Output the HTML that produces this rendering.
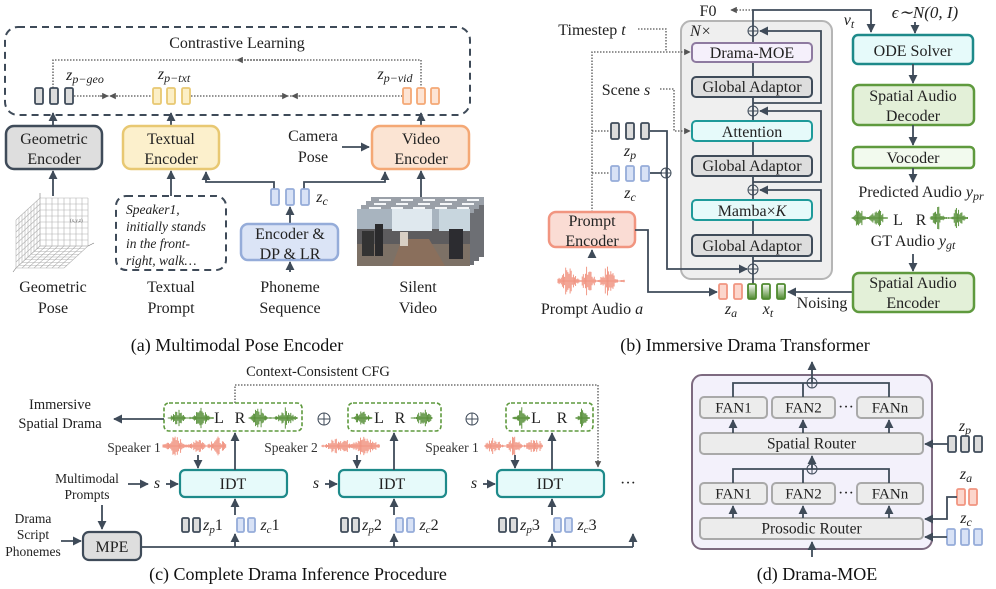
<!DOCTYPE html>
<html><head><meta charset="utf-8"><style>
html,body{margin:0;padding:0;background:#fff;}
svg{display:block;font-family:"Liberation Serif",serif;}
.t{font-size:16px;fill:#222;text-anchor:middle;}
.s{font-size:13.5px;fill:#222;text-anchor:middle;}
.cap{font-size:18px;fill:#111;text-anchor:middle;}
.i{font-style:italic;}
.ln{stroke:#3f4b59;stroke-width:1.8;fill:none;}
.dt{stroke:#555;stroke-width:1.3;fill:none;stroke-dasharray:1.5 1.5;}
</style></head><body>
<svg id="sv" width="996" height="589" viewBox="0 0 996 589" xmlns="http://www.w3.org/2000/svg">
<defs>
<marker id="a" viewBox="0 0 10 10" refX="9" refY="5" markerWidth="5" markerHeight="5" orient="auto"><path d="M0,0L10,5L0,10z" fill="#3f4b59"/></marker>
<marker id="ad" viewBox="0 0 10 10" refX="9" refY="5" markerWidth="5" markerHeight="5" orient="auto"><path d="M0,0L10,5L0,10z" fill="#555"/></marker>
<linearGradient id="gt" x1="0" y1="0" x2="0" y2="1"><stop offset="0" stop-color="#fff"/><stop offset="1" stop-color="#4f8a2f"/></linearGradient>
</defs>

<!-- ===== Panel (a) ===== -->
<rect x="5" y="27" width="465" height="88" rx="13" fill="none" stroke="#3f4b59" stroke-width="2" stroke-dasharray="7 5"/>
<text x="237" y="48" class="t">Contrastive Learning</text>
<path d="M53,88V60H421V88" class="dt"/>
<path d="M300,60L237,60" class="dt" marker-end="url(#ad)"/>
<path d="M74,96H152" class="dt"/><path d="M100,96h8" class="dt" marker-end="url(#ad)"/><path d="M118,96h-8" class="dt" marker-end="url(#ad)"/>
<path d="M191,96H402" class="dt"/><path d="M280,96h8" class="dt" marker-end="url(#ad)"/><path d="M300,96h-8" class="dt" marker-end="url(#ad)"/>
<text x="85" y="80" class="t i">z<tspan font-size="12" dy="3">p−geo</tspan></text>
<text x="174" y="79" class="t i">z<tspan font-size="12" dy="3">p−txt</tspan></text>
<text x="395" y="79" class="t i">z<tspan font-size="12" dy="3">p−vid</tspan></text>
<path d="M53,126V113" class="ln" marker-end="url(#a)"/>
<path d="M171,126V113" class="ln" marker-end="url(#a)"/>
<path d="M421,126V113" class="ln" marker-end="url(#a)"/>
<rect x="6" y="126" width="96" height="43" rx="8" fill="#dedede" stroke="#3f4b59" stroke-width="2.5"/>
<text x="54" y="144" class="t">Geometric</text><text x="54" y="164" class="t">Encoder</text>
<rect x="123" y="126" width="96" height="43" rx="8" fill="#fcf0cc" stroke="#e8c872" stroke-width="2.5"/>
<text x="171" y="144" class="t">Textual</text><text x="171" y="164" class="t">Encoder</text>
<rect x="372" y="126" width="97" height="43" rx="8" fill="#fbe4d3" stroke="#f4a875" stroke-width="2.5"/>
<text x="421" y="144" class="t">Video</text><text x="421" y="164" class="t">Encoder</text>
<text x="313" y="141" class="t">Camera</text><text x="313" y="162" class="t">Pose</text>
<path d="M342,147H369" class="ln" marker-end="url(#a)"/>
<path d="M53,196V171" class="ln" marker-end="url(#a)"/>
<path d="M171,196V171" class="ln" marker-end="url(#a)"/>
<path d="M274,189V182H206V172" class="ln" marker-end="url(#a)"/>
<path d="M304,189V182H385V172" class="ln" marker-end="url(#a)"/>
<path d="M421,197V171" class="ln" marker-end="url(#a)"/>
<text x="322" y="202" class="t i">z<tspan font-size="12" dy="3">c</tspan></text>
<path d="M290,224V207" class="ln" marker-end="url(#a)"/>
<rect x="241" y="224" width="97" height="36" rx="7" fill="#dbe4f6" stroke="#95acd9" stroke-width="2.5"/>
<text x="290" y="239" class="t">Encoder &amp;</text><text x="290" y="259" class="t">DP &amp; LR</text>
<path d="M290,272V262" class="ln" marker-end="url(#a)"/>
<rect x="116" y="196" width="110" height="74" rx="10" fill="none" stroke="#3f4b59" stroke-width="2" stroke-dasharray="7 5"/>
<g class="i" font-size="13.5" fill="#222"><text x="126" y="214">Speaker1,</text><text x="126" y="231">initially stands</text><text x="126" y="248">in the front-</text><text x="126" y="265">right, walk…</text></g>
<g id="grid" stroke="#b0b0b0" stroke-width="0.6" fill="none"></g>
<g id="vid"></g>
<text x="53" y="292" class="t">Geometric</text><text x="53" y="313" class="t">Pose</text>
<text x="171" y="292" class="t">Textual</text><text x="171" y="313" class="t">Prompt</text>
<text x="290" y="292" class="t">Phoneme</text><text x="290" y="313" class="t">Sequence</text>
<text x="418" y="292" class="t">Silent</text><text x="418" y="313" class="t">Video</text>
<text x="237" y="351" class="cap">(a) Multimodal Pose Encoder</text>

<!-- ===== Panel (b) ===== -->
<rect x="681" y="21" width="151" height="258" rx="10" fill="#efefef" stroke="#b5b5b5" stroke-width="2"/>
<text x="690" y="36" class="i" font-size="16" fill="#222">N×</text>
<text x="708" y="16" class="t">F0</text>
<path d="M753,10H731" class="dt" marker-end="url(#ad)"/>
<path d="M753,284V10H871V32" class="ln" marker-end="url(#a)"/>
<path d="M753,103H821V31H760" class="ln" marker-end="url(#a)"/>
<path d="M753,182H821V111H760" class="ln" marker-end="url(#a)"/>
<path d="M753,261H821V190H760" class="ln" marker-end="url(#a)"/>
<rect x="692" y="43" width="120" height="19" rx="4" fill="#f5f0fb" stroke="#8e7aa0" stroke-width="2"/><text x="752" y="58" class="t">Drama-MOE</text>
<rect x="692" y="77" width="120" height="20" rx="4" fill="#dedede" stroke="#3f4b59" stroke-width="2"/><text x="752" y="92" class="t">Global Adaptor</text>
<rect x="692" y="121" width="120" height="20" rx="4" fill="#e6fafa" stroke="#1e9a9a" stroke-width="2"/><text x="752" y="137" class="t">Attention</text>
<rect x="692" y="156" width="120" height="20" rx="4" fill="#dedede" stroke="#3f4b59" stroke-width="2"/><text x="752" y="171" class="t">Global Adaptor</text>
<rect x="692" y="200" width="120" height="20" rx="4" fill="#e6fafa" stroke="#1e9a9a" stroke-width="2"/><text x="752" y="216" class="t">Mamba×<tspan class="i">K</tspan></text>
<rect x="692" y="235" width="120" height="21" rx="4" fill="#dedede" stroke="#3f4b59" stroke-width="2"/><text x="752" y="251" class="t">Global Adaptor</text>
<text x="592" y="35" class="t">Timestep <tspan class="i">t</tspan></text>
<path d="M638,29H666V52" class="dt"/><path d="M592,212V52H690" class="dt" marker-end="url(#ad)"/>
<text x="626" y="95" class="t">Scene <tspan class="i">s</tspan></text>
<path d="M660,89H674V131H690" class="dt" marker-end="url(#ad)"/>
<path d="M592,131H610M592,173H610" class="dt"/>
<path d="M650,131H667V269H747" class="ln" marker-end="url(#a)"/>
<path d="M650,173H662" class="ln"/>
<text x="630" y="156" class="t i">z<tspan font-size="12" dy="3">p</tspan></text>
<text x="630" y="198" class="t i">z<tspan font-size="12" dy="3">c</tspan></text>
<rect x="549" y="212" width="86" height="35" rx="7" fill="#fadcd4" stroke="#f19580" stroke-width="2.5"/>
<text x="592" y="226" class="t">Prompt</text><text x="592" y="246" class="t">Encoder</text>
<path d="M592,258V250" class="ln" marker-end="url(#a)"/>
<path d="M635,230H648V292H717" class="ln" marker-end="url(#a)"/>
<text x="592" y="314" class="t">Prompt Audio <tspan class="i">a</tspan></text>
<text x="731" y="314" class="t i">z<tspan font-size="12" dy="3">a</tspan></text>
<text x="768" y="314" class="t i">x<tspan font-size="12" dy="3">t</tspan></text>
<text x="822" y="308" class="t">Noising</text>
<path d="M853,292H788" class="ln" marker-end="url(#a)"/>
<text x="925" y="18" class="t i" style="font-size:17px">ϵ∼N(0, I)</text>
<text x="849" y="25" class="t i">v<tspan font-size="12" dy="3">t</tspan></text>
<path d="M915,22V33" class="ln" marker-end="url(#a)"/>
<rect x="853" y="35" width="120" height="29" rx="5" fill="#e6fafa" stroke="#1e8a8a" stroke-width="2.5"/><text x="913" y="56" class="t">ODE Solver</text>
<path d="M913,64V83" class="ln" marker-end="url(#a)"/>
<rect x="853" y="85" width="121" height="40" rx="6" fill="#e3f0d8" stroke="#5f9a3e" stroke-width="2.5"/>
<text x="913" y="101" class="t">Spatial Audio</text><text x="913" y="121" class="t">Decoder</text>
<path d="M913,125V145" class="ln" marker-end="url(#a)"/>
<rect x="853" y="147" width="121" height="21" rx="4" fill="#f2faee" stroke="#5f9a3e" stroke-width="2.5"/><text x="913" y="163" class="t">Vocoder</text>
<path d="M913,168V182" class="ln" marker-end="url(#a)"/>
<text x="921" y="197" class="t">Predicted Audio <tspan class="i">y</tspan><tspan class="i" font-size="12" dy="3">pr</tspan></text>
<text x="898" y="225" class="t">L</text><text x="921" y="225" class="t">R</text>
<text x="913" y="246" class="t">GT Audio <tspan class="i">y</tspan><tspan class="i" font-size="12" dy="3">gt</tspan></text>
<path d="M913,254V271" class="ln" marker-end="url(#a)"/>
<rect x="853" y="273" width="121" height="39" rx="6" fill="#e3f0d8" stroke="#5f9a3e" stroke-width="2.5"/>
<text x="913" y="288" class="t">Spatial Audio</text><text x="913" y="308" class="t">Encoder</text>
<text x="745" y="351" class="cap">(b) Immersive Drama Transformer</text>

<!-- ===== Panel (c) ===== -->
<text x="318" y="376" class="s" style="font-size:14.5px">Context-Consistent CFG</text>
<path d="M235,403V385H598V467" class="dt" marker-end="url(#ad)"/>
<rect x="164" y="403" width="138" height="28" rx="5" fill="none" stroke="#5f9a3e" stroke-width="1.6" stroke-dasharray="4 2"/>
<rect x="348" y="403" width="93" height="28" rx="5" fill="none" stroke="#5f9a3e" stroke-width="1.6" stroke-dasharray="4 2"/>
<rect x="506" y="403" width="87" height="28" rx="5" fill="none" stroke="#5f9a3e" stroke-width="1.6" stroke-dasharray="4 2"/>
<text x="219" y="423" class="t">L</text><text x="240" y="423" class="t">R</text>
<text x="379" y="423" class="t">L</text><text x="400" y="423" class="t">R</text>
<text x="536" y="423" class="t">L</text><text x="562" y="423" class="t">R</text>
<text x="60" y="409" class="s" style="font-size:14.5px">Immersive</text><text x="60" y="428" class="s" style="font-size:14.5px">Spatial Drama</text>
<path d="M164,419H114" class="ln" marker-end="url(#a)"/>
<text x="134" y="452" class="s" style="fill:#333">Speaker 1</text>
<text x="291" y="452" class="s" style="fill:#333">Speaker 2</text>
<text x="452" y="452" class="s" style="fill:#333">Speaker 1</text>
<text x="87" y="483" class="s">Multimodal</text><text x="87" y="499" class="s">Prompts</text>
<path d="M128,484H148" class="ln" marker-end="url(#a)"/>
<path d="M102,505V529" class="ln" marker-end="url(#a)"/>
<text x="33" y="523" class="s">Drama</text><text x="33" y="539" class="s">Script</text><text x="33" y="556" class="s">Phonemes</text>
<path d="M61,541H81" class="ln" marker-end="url(#a)"/>
<rect x="83" y="532" width="58" height="28" rx="6" fill="#dedede" stroke="#3f4b59" stroke-width="2.2"/>
<text x="112" y="552" class="t">MPE</text>
<path d="M141,547H633" class="ln"/>
<text x="628" y="488" class="t">···</text>
<text x="298" y="580" class="cap">(c) Complete Drama Inference Procedure</text>

<!-- ===== Panel (d) ===== -->
<rect x="692" y="375" width="240" height="174" rx="10" fill="#f3f1fb" stroke="#7d6a80" stroke-width="2"/>
<g id="moe"></g>
<text x="817" y="580" class="cap">(d) Drama-MOE</text>
<text x="965" y="431" class="t i">z<tspan font-size="12" dy="3">p</tspan></text>
<text x="966" y="479" class="t i">z<tspan font-size="12" dy="3">a</tspan></text>
<text x="966" y="523" class="t i">z<tspan font-size="12" dy="3">c</tspan></text>
</svg>
<script>
var NS="http://www.w3.org/2000/svg",sv=document.getElementById("sv");
function el(t,a,p){var e=document.createElementNS(NS,t);for(var k in a)e.setAttribute(k,a[k]);(p||sv).appendChild(e);return e;}
var C={g:["#dcdcdc","#3f4b59"],y:["#fcefc6","#e8c872"],o:["#fde4d4","#f4a875"],b:["#d8e2f6","#95acd9"],r:["#fcd6cc","#f19580"],gr:["url(#gt)","#4f8a2f"]};
function tok(x,y,c,w,h){el("rect",{x:x,y:y,width:w||8,height:h||16,rx:1.5,fill:C[c][0],stroke:C[c][1],"stroke-width":1.8});}
[35,50,65].forEach(function(x){tok(x,88,"g")});
[153,167,182].forEach(function(x){tok(x,88,"y")});
[403,417,431].forEach(function(x){tok(x,88,"o")});
[271,286,301].forEach(function(x){tok(x,189,"b")});
[611,626,641].forEach(function(x){tok(x,123,"g",8,16)});
[611,626,641].forEach(function(x){tok(x,166,"b",8,15)});
[719,734].forEach(function(x){tok(x,284,"r",8,15)});
[748,762,777].forEach(function(x){tok(x,284,"gr",8,15)});
function op(x,y,r){r=r||5;el("circle",{cx:x,cy:y,r:r,fill:"none",stroke:"#3f4b59","stroke-width":1});el("path",{d:"M"+(x-r)+","+y+"h"+2*r+"M"+x+","+(y-r)+"v"+2*r,stroke:"#3f4b59","stroke-width":1});}
op(753,31);op(753,111);op(753,190);op(753,269);op(666,173);
op(324,419,6);op(472,419,6);
// grid: back wall x 40..90 y 198..245, left wall, floor
var g=document.getElementById("grid");
var bx0=40,by0=198,bw=48,bh=48,dx=-24,dy=22;
for(var i=0;i<=8;i++){var x=bx0+i*bw/8,y=by0+i*bh/8;
 el("path",{d:"M"+x+","+by0+"V"+(by0+bh)+"l"+dx+","+dy},g);
 el("path",{d:"M"+bx0+","+y+"H"+(bx0+bw)},g);
 el("path",{d:"M"+bx0+","+y+"l"+dx+","+dy},g);
 var f=i/8;el("path",{d:"M"+(bx0+dx*f)+","+(by0+dy*f)+"V"+(by0+bh+dy*f)},g);
 el("path",{d:"M"+(bx0+dx*f)+","+(by0+bh+dy*f)+"h"+bw},g);}
el("path",{d:"M"+(bx0+dx)+","+(by0+bh+dy)+"l-3,4M"+bx0+","+by0+"v-5M"+(bx0+bw)+","+(by0+bh)+"l6,-3",stroke:"#777"},g);
el("text",{x:70,y:222,"font-size":5,fill:"#555",stroke:"none"},g).textContent="(x,y,z)";
var v=document.getElementById("vid");
[[371,197],[366,201],[361,205]].forEach(function(p,k){
 el("rect",{x:p[0],y:p[1],width:113,height:60,fill:"#6d6f74"},v);
 el("rect",{x:p[0],y:p[1],width:113,height:8,fill:"#9aa0a8"},v);
 for(var j=0;j<5;j++)el("rect",{x:p[0]+8+j*22,y:p[1]+2,width:12,height:3,fill:"#f4f6f8"},v);
});
var fx=357,fy=209;
el("rect",{x:fx,y:fy,width:113,height:57,fill:"#5d5c5e"},v);
el("rect",{x:fx,y:fy,width:113,height:20,fill:"#a8b4bf"},v);
el("rect",{x:fx+35,y:fy,width:40,height:22,fill:"#dfe8ee"},v);
el("rect",{x:fx+82,y:fy,width:31,height:22,fill:"#c8d6de"},v);
el("rect",{x:fx,y:fy+35,width:113,height:22,fill:"#7d7166"},v);
el("path",{d:"M"+(fx+45)+","+(fy+30)+"L"+(fx+72)+","+(fy+30)+"L"+(fx+88)+","+(fy+57)+"L"+(fx+35)+","+(fy+57)+"Z",fill:"#8a6f5c"},v);
el("rect",{x:fx+18,y:fy+15,width:8,height:32,fill:"#2a2a2c"},v);
el("rect",{x:fx+43,y:fy+23,width:8,height:14,fill:"#d8cfc4"},v);
el("rect",{x:fx+92,y:fy+20,width:14,height:30,fill:"#2c2c30"},v);
el("rect",{x:fx+5,y:fy+22,width:12,height:25,fill:"#333"},v);
var seed=7;function rnd(){seed=(seed*9301+49297)%233280;return seed/233280;}
function wave(x0,x1,yc,amp,col,bursts){var d="";for(var x=x0;x<=x1;x+=1.1){var e=0.08;bursts.forEach(function(b){var t=(x-x0)/(x1-x0);e=Math.max(e,Math.exp(-Math.pow((t-b[0])/b[1],2)));});var h=amp*e*(0.25+0.75*rnd());d+="M"+x.toFixed(1)+","+(yc-h).toFixed(1)+"V"+(yc+h).toFixed(1);}
el("path",{d:d,stroke:col,"stroke-width":0.9,fill:"none"});el("path",{d:"M"+x0+","+yc+"H"+x1,stroke:col,"stroke-width":0.8});}
var R="#f08f7c",G="#4f8a2f";
wave(558,625,281,16,R,[[0.15,0.12],[0.45,0.08],[0.75,0.1]]);
wave(852,888,218,13,G,[[0.2,0.12],[0.7,0.15]]);
wave(930,968,218,13,G,[[0.2,0.12],[0.75,0.15]]);
wave(168,214,418,11,G,[[0.2,0.12],[0.7,0.15]]);
wave(249,298,418,11,G,[[0.2,0.12],[0.75,0.15]]);
wave(352,372,418,11,G,[[0.5,0.3]]);wave(411,432,418,11,G,[[0.6,0.3]]);
wave(513,530,418,11,G,[[0.5,0.3]]);wave(576,590,418,11,G,[[0.5,0.3]]);
wave(163,226,446,10,R,[[0.2,0.15],[0.55,0.1],[0.85,0.12]]);
wave(322,380,446,10,R,[[0.3,0.2],[0.7,0.25]]);
wave(485,543,446,10,R,[[0.15,0.12],[0.5,0.1],[0.85,0.12]]);
[0,159,317].forEach(function(o){
 el("rect",{x:180+o,y:470,width:107,height:27,rx:5,fill:"#e6fafa",stroke:"#1e8a8a","stroke-width":2.2});
 var t=el("text",{x:233+o,y:489,"class":"t"});t.textContent="IDT";
 var s=el("text",{x:157+o,y:488,"class":"t i"});s.textContent="s";
 el("path",{d:"M"+(166+o)+",484H"+(178+o),"class":"ln","marker-end":"url(#a)"});
 el("path",{d:"M"+(198+o)+",455V468","class":"ln","marker-end":"url(#a)"});
 el("path",{d:"M"+(235+o)+",470V433","class":"ln","marker-end":"url(#a)"});
 el("path",{d:"M"+(235+o)+",515V499","class":"ln","marker-end":"url(#a)"});
 el("path",{d:"M"+(235+o)+",547V534","class":"ln","marker-end":"url(#a)"});
 tok(182+o,518,"g",7,14);tok(193+o,518,"g",7,14);tok(237+o,518,"b",7,14);tok(248+o,518,"b",7,14);
 var n=o==0?1:o==159?2:3;
 var a=el("text",{x:213+o,y:530,"class":"t i"});a.innerHTML='z<tspan font-size="11" dy="3">p</tspan><tspan dy="-3" font-style="normal">'+n+'</tspan>';
 var b=el("text",{x:270+o,y:530,"class":"t i"});b.innerHTML='z<tspan font-size="11" dy="3">c</tspan><tspan dy="-3" font-style="normal">'+n+'</tspan>';
});
el("path",{d:"M633,547V534","class":"ln","marker-end":"url(#a)"});
var m=document.getElementById("moe");
function bx(x,y,w,h,txt,fs){el("rect",{x:x,y:y,width:w,height:h,rx:4,fill:"#ececec",stroke:"#a9a9a9","stroke-width":2},m);var t=el("text",{x:x+w/2,y:y+h/2+5,"class":"t",style:"font-size:"+(fs||15)+"px"},m);t.textContent=txt;}
[[397,433],[483,518]].forEach(function(r,k){
 bx(700,r[0],67,21,"FAN1");bx(772,r[0],63,21,"FAN2");bx(857,r[0],66,21,"FANn");
 var t=el("text",{x:846,y:r[0]+15,"class":"t"},m);t.textContent="···";
 bx(700,r[1],223,21,k?"Prosodic Router":"Spatial Router",15.5);
 [733,803,889].forEach(function(x){el("path",{d:"M"+x+","+r[1]+"V"+(r[0]+23),"class":"ln","stroke-width":1.5,"marker-end":"url(#a)"},m);});
 var hy=r[0]-14;
 el("path",{d:"M733,"+r[0]+"V"+hy+"H889V"+r[0]+"M803,"+r[0]+"V"+hy,"class":"ln","stroke-width":1.5},m);
 el("path",{d:"M812,"+hy+"V"+(k?456:362),"class":"ln","stroke-width":1.5,"marker-end":"url(#a)"},m);
 op(812,hy,5);
});
el("path",{d:"M812,557V542","class":"ln","marker-end":"url(#a)"},m);
[948,961,974].forEach(function(x){tok(x,436,"g",8,16)});
[957,969].forEach(function(x){tok(x,489,"r",8,16)});
[947,961,974].forEach(function(x){tok(x,529,"b",8,16)});
el("path",{d:"M948,444H925","class":"ln","marker-end":"url(#a)"});
el("path",{d:"M957,497H947V519H925","class":"ln","marker-end":"url(#a)"});
el("path",{d:"M947,537H925","class":"ln","marker-end":"url(#a)"});
</script>
</body></html>
